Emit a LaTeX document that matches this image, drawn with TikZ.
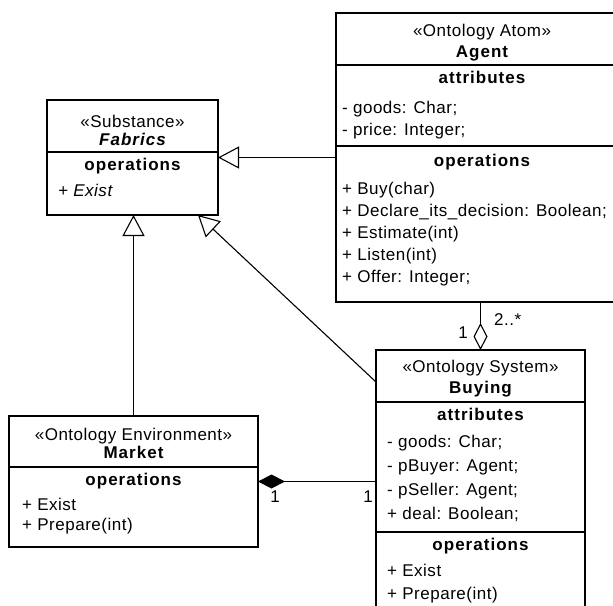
\documentclass[tikz,border=0pt]{standalone}
\usepackage{fontspec}
\usetikzlibrary{arrows.meta}

% Faces used in the class boxes (lightly tracked sans)
\newfontface\umlRegularFace{Liberation Sans}[LetterSpace=3]
\newfontface\umlBoldFace{Liberation Sans Bold}[LetterSpace=6]
\newfontface\umlItalicFace{Liberation Sans Italic}[LetterSpace=3]
\newfontface\umlBoldItalicFace{Liberation Sans Bold Italic}[LetterSpace=6]
\newcommand\umlRegular{\umlRegularFace\fontsize{17}{20}\selectfont}
\newcommand\umlBold{\umlBoldFace\fontsize{17}{20}\selectfont}
\newcommand\umlItalic{\umlItalicFace\fontsize{17}{20}\selectfont}
\newcommand\umlBoldItalic{\umlBoldItalicFace\fontsize{17}{20}\selectfont}

\begin{document}
\begin{tikzpicture}[x=1pt, y=-1pt,
  classbox/.style={draw, line width=1.6pt, fill=white, inner sep=0pt, outer sep=0pt},
  divider/.style={line width=1.6pt},
  stereo/.style={anchor=base, inner sep=0pt, font=\umlRegular},
  cname/.style={anchor=base, inner sep=0pt, font=\umlBold},
  section/.style={anchor=base, inner sep=0pt, font=\umlBold},
  member/.style={anchor=base west, inner sep=0pt, font=\umlRegular},
  mult/.style={anchor=base, inner sep=0pt, font=\umlRegular},
  gen/.style={line width=1.1pt, -{Triangle[open, length=21pt, width=22pt, fill=white, line width=1.1pt]}},
  aggr/.style={line width=1.1pt, -{Diamond[open, length=27pt, width=14pt, fill=white, line width=1.1pt]}},
  compo/.style={line width=1.1pt, -{Diamond[length=27pt, width=14pt]}}
]
\useasboundingbox (0,0) rectangle (613,605);
\clip (0,0) rectangle (613,605);
\fill[white] (0,0) rectangle (613,605);

% ---------- class boxes ----------
\node[classbox, minimum width=292pt, minimum height=289pt] (agent)   at (482,157.5) {};
\node[classbox, minimum width=171pt, minimum height=115pt] (fabrics) at (132.5,157.5) {};
\node[classbox, minimum width=249pt, minimum height=131pt] (market)  at (133.5,481.5) {};
\node[classbox, minimum width=209pt, minimum height=290pt] (buying)  at (480.5,495) {};

% compartment dividers
\draw[divider] (agent.west |- 0,65)    -- (agent.east |- 0,65);
\draw[divider] (agent.west |- 0,146)   -- (agent.east |- 0,146);
\draw[divider] (fabrics.west |- 0,152) -- (fabrics.east |- 0,152);
\draw[divider] (market.west |- 0,467)  -- (market.east |- 0,467);
\draw[divider] (buying.west |- 0,402)  -- (buying.east |- 0,402);
\draw[divider] (buying.west |- 0,532)  -- (buying.east |- 0,532);

% ---------- Agent ----------
\node[stereo]  (agentSt)   at (482,36)  {«Ontology Atom»};
\node[cname]   (agentNm)   at (482,57)  {Agent};
\node[section] (agentAttr) at (482,83)  {attributes};
\node[member]  (agentA1)   at (342,113) {- goods: Char;};
\node[member]  (agentA2)   at (342,135) {- price: Integer;};
\node[section] (agentOps)  at (482,166) {operations};
\node[member]  (agentO1)   at (342,194) {+ Buy(char)};
\node[member]  (agentO2)   at (342,216) {+ Declare\_its\_decision: Boolean;};
\node[member]  (agentO3)   at (342,238) {+ Estimate(int)};
\node[member]  (agentO4)   at (342,260) {+ Listen(int)};
\node[member]  (agentO5)   at (342,282) {+ Offer: Integer;};

% ---------- Fabrics ----------
\node[stereo]  (fabSt)  at (132.5,127) {«Substance»};
\node[cname, font=\umlBoldItalic] (fabNm) at (132.5,145) {Fabrics};
\node[section] (fabOps) at (132.5,170) {operations};
\node[member, font=\umlItalic] (fabO1) at (58,196) {+ Exist};

% ---------- Market ----------
\node[stereo]  (mktSt)  at (133.5,440) {«Ontology Environment»};
\node[cname]   (mktNm)  at (133.5,458) {Market};
\node[section] (mktOps) at (133.5,485) {operations};
\node[member]  (mktO1)  at (22,510) {+ Exist};
\node[member]  (mktO2)  at (22,530) {+ Prepare(int)};

% ---------- Buying ----------
\node[stereo]  (buySt)   at (480.5,372) {«Ontology System»};
\node[cname]   (buyNm)   at (480.5,393) {Buying};
\node[section] (buyAttr) at (480.5,420) {attributes};
\node[member]  (buyA1)   at (387,447) {- goods: Char;};
\node[member]  (buyA2)   at (387,471) {- pBuyer: Agent;};
\node[member]  (buyA3)   at (387,495) {- pSeller: Agent;};
\node[member]  (buyA4)   at (387,519) {+ deal: Boolean;};
\node[section] (buyOps)  at (480.5,550) {operations};
\node[member]  (buyO1)   at (387,576) {+ Exist};
\node[member]  (buyO2)   at (387,599) {+ Prepare(int)};

% ---------- relationships ----------
\draw[gen] (agent.west) -- (fabrics.east);
\draw[gen] (market.north) -- (market.north |- fabrics.south);
\draw[gen] ([yshift=-32pt]buying.north west) -- ([xshift=65.5pt]fabrics.south);
\draw[aggr] (agent.south -| buying.north) -- (buying.north);
\draw[compo] (buying.west |- market.east) -- (market.east);

% multiplicities
\node[mult] (mAggA) at (463,338) {1};
\node[mult, anchor=base west] (mAggB) at (494,325) {2..*};
\node[mult] (mCmpA) at (275,502) {1};
\node[mult] (mCmpB) at (368,502) {1};
\end{tikzpicture}
\end{document}
